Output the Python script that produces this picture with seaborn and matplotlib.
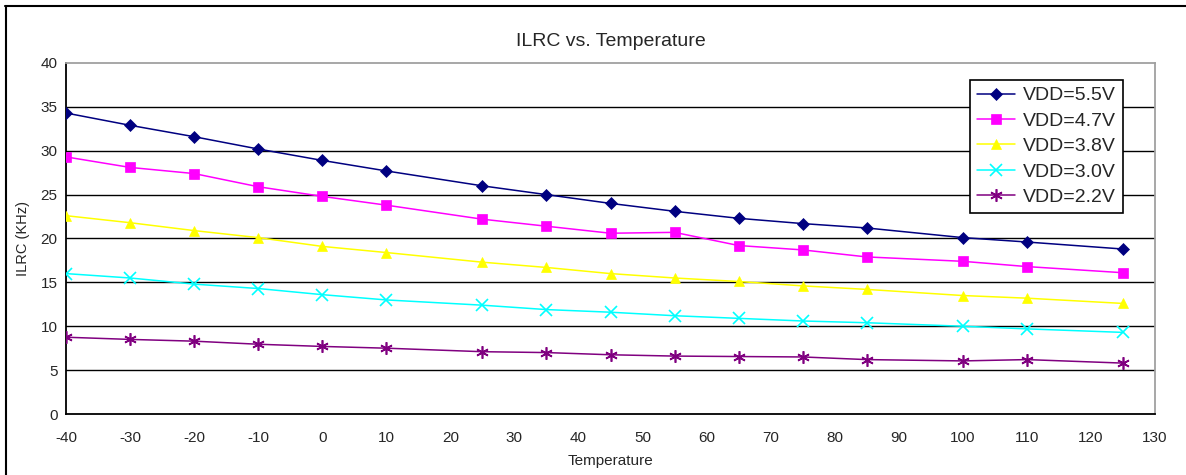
import matplotlib
matplotlib.use("Agg")
import matplotlib.pyplot as plt
import seaborn as sns
import pandas as pd
from matplotlib.lines import Line2D

temperature = [-40, -30, -20, -10, 0, 10, 25, 35, 45, 55, 65, 75, 85, 100, 110, 125]
vdd_5_5 = [34.3, 32.9, 31.6, 30.2, 28.9, 27.7, 26.0, 25.0, 24.0, 23.1, 22.3, 21.7, 21.2, 20.1, 19.6, 18.8]
vdd_4_7 = [29.3, 28.1, 27.4, 25.9, 24.8, 23.8, 22.2, 21.4, 20.6, 20.7, 19.2, 18.7, 17.9, 17.4, 16.8, 16.1]
vdd_3_8 = [22.6, 21.8, 20.9, 20.1, 19.1, 18.4, 17.3, 16.7, 16.0, 15.5, 15.1, 14.6, 14.2, 13.5, 13.2, 12.6]
vdd_3_0 = [16.0, 15.5, 14.8, 14.3, 13.6, 13.0, 12.4, 11.9, 11.6, 11.2, 10.9, 10.6, 10.4, 10.0, 9.7, 9.3]
vdd_2_2 = [8.75, 8.5, 8.3, 7.95, 7.7, 7.5, 7.1, 7.0, 6.75, 6.6, 6.55, 6.5, 6.2, 6.05, 6.2, 5.8]

series_names = ["VDD=5.5V", "VDD=4.7V", "VDD=3.8V", "VDD=3.0V", "VDD=2.2V"]
series_values = [vdd_5_5, vdd_4_7, vdd_3_8, vdd_3_0, vdd_2_2]
colors = ["#000080", "#FF00FF", "#FFFF00", "#00FFFF", "#800080"]
markers = ["D", "s", "^", "x", (6, 2, 0)]
msizes = [6, 7, 7.5, 8, 9]

x_ticks = list(range(-40, 131, 10))
y_ticks = list(range(0, 41, 5))

sns.set_style("white")
plt.rcParams["font.family"] = ["Liberation Sans", "DejaVu Sans"]

fig = plt.figure(figsize=(11.86, 4.75), dpi=100)
ax = fig.add_axes([66 / 1186, 1 - 414 / 475, (1155 - 66) / 1186, (414 - 63) / 475])

handles = []
for name, vals, c, m, ms in zip(series_names, series_values, colors, markers, msizes):
    df = pd.DataFrame({"Temperature": temperature, "ILRC": vals})
    mew = 1.2 if (m == "x" or isinstance(m, tuple)) else 0.5
    sns.lineplot(data=df, x="Temperature", y="ILRC", ax=ax, color=c, lw=1.1,
                 marker=m, markersize=ms, markeredgecolor=c, markerfacecolor=c,
                 markeredgewidth=mew, zorder=3)
    handles.append(Line2D([0], [0], color=c, lw=1.1, marker=m, markersize=ms,
                          markeredgecolor=c, markerfacecolor=c, markeredgewidth=mew))

ax.set_xlim(-40, 130)
ax.set_ylim(0, 40)
ax.set_xticks(x_ticks)
ax.set_yticks(y_ticks)
ax.set_xticklabels([str(t) for t in x_ticks], fontsize=11)
ax.set_yticklabels([str(t) for t in y_ticks], fontsize=11)
ax.tick_params(axis="x", direction="in", length=5, width=1, color="black", pad=12)
ax.tick_params(axis="y", direction="out", length=0, pad=6)

for yv in y_ticks[1:-1]:
    ax.axhline(yv, color="black", lw=1, zorder=1)

for s in ["left", "bottom"]:
    ax.spines[s].set_color("black")
    ax.spines[s].set_linewidth(1.3)
for s in ["top", "right"]:
    ax.spines[s].set_color("#A0A0A0")
    ax.spines[s].set_linewidth(1.3)

ax.set_xlabel("Temperature", fontsize=11, labelpad=7)
ax.set_ylabel("ILRC (KHz)", fontsize=10.5, labelpad=8)
ax.set_title("ILRC vs. Temperature", fontsize=14, pad=12)

leg = ax.legend(handles, series_names, loc="upper right",
                bbox_to_anchor=((1123 - 66) / 1089, (414 - 80) / 351),
                borderaxespad=0, fontsize=14, frameon=True, fancybox=False,
                handlelength=2.0, handletextpad=0.4, labelspacing=0.4,
                borderpad=0.35)
leg.get_frame().set_edgecolor("black")
leg.get_frame().set_linewidth(1.2)
leg.get_frame().set_facecolor("white")
leg.get_frame().set_alpha(1)

# outer frame (top and left edges visible)
fig.add_artist(Line2D([5 / 1186, 1], [1 - 5.5 / 475, 1 - 5.5 / 475], transform=fig.transFigure, color="black", lw=1.5))
fig.add_artist(Line2D([5.5 / 1186, 5.5 / 1186], [0, 1 - 5.5 / 475], transform=fig.transFigure, color="black", lw=1.5))

fig.savefig("out.png", dpi=100)
